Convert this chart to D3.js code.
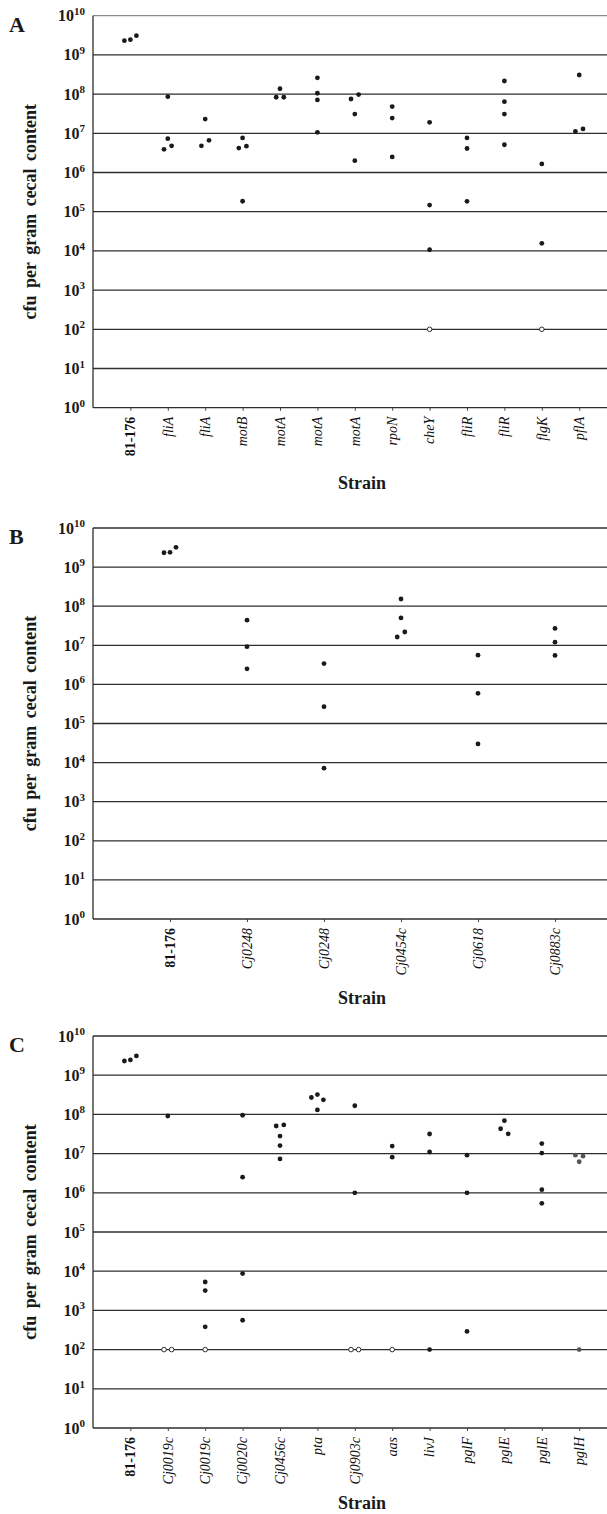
<!DOCTYPE html>
<html>
<head>
<meta charset="utf-8">
<script src="https://cdn.jsdelivr.net/npm/d3@7"></script>
<style>
body{margin:0;background:#fff;}
svg text{font-family:"Liberation Serif","Times New Roman",serif;}
</style>
</head>
<body>
<div id="chart"></div>
<script>
// ---- data (cfu per gram cecal content, one array of mice per strain) ----
const strains_a = ["81-176","fliA","fliA","motB","motA","motA","motA","rpoN","cheY","fliR","fliR","flgK","pflA"];
const cfu_a = [
    [2.3e9, 2.45e9, 3.1e9],
    [8.6e7, 7.3e6, 3.9e6, 4.8e6],
    [2.3e7, 4.8e6, 6.6e6],
    [7.6e6, 4.2e6, 4.7e6, 1.85e5],
    [1.37e8, 8.3e7, 8.3e7],
    [2.6e8, 1.05e8, 7.1e7, 1.06e7],
    [7.5e7, 9.7e7, 3.1e7, 2.0e6],
    [4.8e7, 2.45e7, 2.5e6],
    [1.9e7, 1.48e5, 1.07e4],
    [7.6e6, 4.1e6, 1.84e5],
    [2.16e8, 6.4e7, 3.1e7, 5.1e6],
    [1.65e6, 1.56e4],
    [3.07e8, 1.12e7, 1.29e7]
];
// mice with no recovered bacteria (open circle at the detection limit)
const below_a = [0,0,0,0,0,0,0,0,1,0,0,1,0];

const strains_b = ["81-176","Cj0248","Cj0248","Cj0454c","Cj0618","Cj0883c"];
const cfu_b = [
    [2.33e9, 2.39e9, 3.2e9],
    [4.4e7, 9.2e6, 2.5e6],
    [3.4e6, 2.7e5, 7.2e3],
    [1.53e8, 5.0e7, 1.63e7, 2.19e7],
    [5.6e6, 5.9e5, 3.0e4],
    [2.7e7, 1.2e7, 5.5e6]
];
const below_b = [0,0,0,0,0,0];

const strains_c = ["81-176","Cj0019c","Cj0019c","Cj0020c","Cj0456c","pta","Cj0903c","aas","livJ","pglF","pglE","pglE","pglH"];
const cfu_c = [
    [2.3e9, 2.45e9, 3.1e9],
    [9.1e7],
    [5.3e3, 3.2e3, 380],
    [9.5e7, 2.5e6, 8.7e3, 560],
    [5.06e7, 5.4e7, 2.8e7, 1.6e7, 7.3e6],
    [2.7e8, 3.2e8, 2.35e8, 1.3e8],
    [1.66e8, 1.0e6],
    [1.56e7, 8.1e6],
    [3.16e7, 1.1e7, 100],
    [9.1e6, 1.0e6, 290],
    [6.9e7, 4.3e7, 3.2e7],
    [1.8e7, 1.03e7, 1.2e6, 5.4e5],
    [9.1e6, 8.6e6, 6.2e6, 100]
];
const below_c = [0,2,1,0,0,0,2,1,0,0,0,0,0];

const detection_limit = 100;
const y_exponents = d3.range(0, 11);   // 10^0 .. 10^10

// ---- layout ----
const W = 607, H = 1514;
const plot_left = 93;
const dot_r = 2.4;
const faded_c = new Set([12]);   // pglH dots printed lighter

const svg = d3.select("#chart").append("svg")
    .attr("width", W)
    .attr("height", H);

function draw_panel(letter, strains, cfu, below, top, bottom, step, strain_dy){
    const n = strains.length;
    const g = svg.append("g");

    // scales
    const x = d3.scaleLinear().domain([0, n+1]).range([plot_left, plot_left + (n+1)*step]);
    const y = d3.scaleLog().domain([1, 1e10]).range([bottom, top]);

    // grid lines (one per decade)
    g.selectAll("line.grid")
        .data(y_exponents.slice(1))
        .enter()
        .append("line")
        .attr("x1", plot_left)
        .attr("x2", W)
        .attr("y1", d => y(Math.pow(10, d)))
        .attr("y2", d => y(Math.pow(10, d)))
        .attr("stroke", d => (d == 10 && letter == "A") ? "#8a8a8a" : "#2e2e2e")
        .attr("stroke-width", 1.3);

    // y axis line
    g.append("line")
        .attr("x1", plot_left).attr("x2", plot_left)
        .attr("y1", top).attr("y2", bottom)
        .attr("stroke", "#2e2e2e").attr("stroke-width", 1.3);

    // x axis (ticks down, labels rotated)
    const x_axis = d3.axisBottom(x)
        .tickValues(d3.range(1, n+1))
        .tickSize(3)
        .tickFormat("");
    const ax = g.append("g")
        .attr("transform", "translate(0," + bottom + ")")
        .call(x_axis);
    ax.select(".domain").attr("stroke", "#2e2e2e").attr("stroke-width", 1.3).attr("d", "M" + plot_left + ",0H" + W);
    ax.selectAll(".tick line").attr("stroke", "#444");

    g.selectAll("text.strain")
        .data(strains)
        .enter()
        .append("text")
        .attr("class", "strain")
        .attr("transform", (d, i) => "translate(" + (x(i+1) + 4.8) + "," + (bottom + 9) + ") rotate(-90)")
        .attr("text-anchor", "end")
        .attr("font-size", 14)
        .attr("font-weight", d => d == "81-176" ? "bold" : "normal")
        .attr("font-style", d => d == "81-176" ? "normal" : "italic")
        .attr("fill", "#111")
        .text(d => d);

    // y tick labels 10^e
    const yl = g.selectAll("text.ytick")
        .data(y_exponents)
        .enter()
        .append("text")
        .attr("class", "ytick")
        .attr("x", 85)
        .attr("y", d => y(Math.pow(10, d)) + 5.5)
        .attr("text-anchor", "end")
        .attr("font-weight", "bold")
        .attr("font-size", 16)
        .attr("fill", "#1a1a1a");
    yl.append("tspan").text("10");
    yl.append("tspan").attr("dy", -6.5).attr("font-size", 11).text(d => d);

    // axis titles and panel letter
    g.append("text")
        .attr("transform", "translate(36," + ((top + bottom)/2) + ") rotate(-90)")
        .attr("text-anchor", "middle")
        .attr("font-weight", "bold")
        .attr("font-size", 18)
        .attr("fill", "#1a1a1a")
        .attr("word-spacing", 3)
        .text("cfu per gram cecal content");

    g.append("text")
        .attr("x", 362)
        .attr("y", bottom + strain_dy)
        .attr("text-anchor", "middle")
        .attr("font-weight", "bold")
        .attr("font-size", 18)
        .attr("fill", "#1a1a1a")
        .text("Strain");

    g.append("text")
        .attr("x", 9)
        .attr("y", top + 16)
        .attr("font-weight", "bold")
        .attr("font-size", 22)
        .attr("fill", "#1a1a1a")
        .text(letter);

    // points: recovered counts + undetected mice at the limit
    let points = [];
    cfu.forEach((vals, i) => {
        vals.forEach((v, k) => points.push({cat: i, v: v, open: false, k: k}));
        for (let k = 0; k < below[i]; k++){
            points.push({cat: i, v: detection_limit, open: true, k: 100 + k});
        }
    });

    // spread overlapping points of one strain side by side
    d3.group(points, p => p.cat).forEach(list => {
        list.sort((a, b) => y(a.v) - y(b.v));
        let clusters = [];
        list.forEach(p => {
            const c = clusters[clusters.length - 1];
            if (c && Math.abs(y(p.v) - y(c[0].v)) < 5.6){
                c.push(p);
            } else {
                clusters.push([p]);
            }
        });
        clusters.forEach(c => {
            c.sort((a, b) => a.k - b.k);
            const gap = c.length == 2 ? 7.6 : 6;
            c.forEach((p, j) => { p.dx = (j - (c.length - 1)/2) * gap; });
        });
    });

    g.selectAll("circle.mouse")
        .data(points)
        .enter()
        .append("circle")
        .attr("class", "mouse")
        .attr("cx", d => x(d.cat + 1) + d.dx)
        .attr("cy", d => y(d.v))
        .attr("r", d => d.open ? 2.3 : dot_r)
        .attr("fill", d => d.open ? "#fff" : ((letter == "C" && faded_c.has(d.cat)) ? "#555" : "#1a1a1a"))
        .attr("stroke", d => d.open ? "#1a1a1a" : "none")
        .attr("stroke-width", 0.9);
}

draw_panel("A", strains_a, cfu_a, below_a, 15.7, 407.7, 37.4, 81);
draw_panel("B", strains_b, cfu_b, below_b, 528, 919, 77, 85);
draw_panel("C", strains_c, cfu_c, below_c, 1036, 1428, 37.4, 81);
</script>
</body>
</html>
